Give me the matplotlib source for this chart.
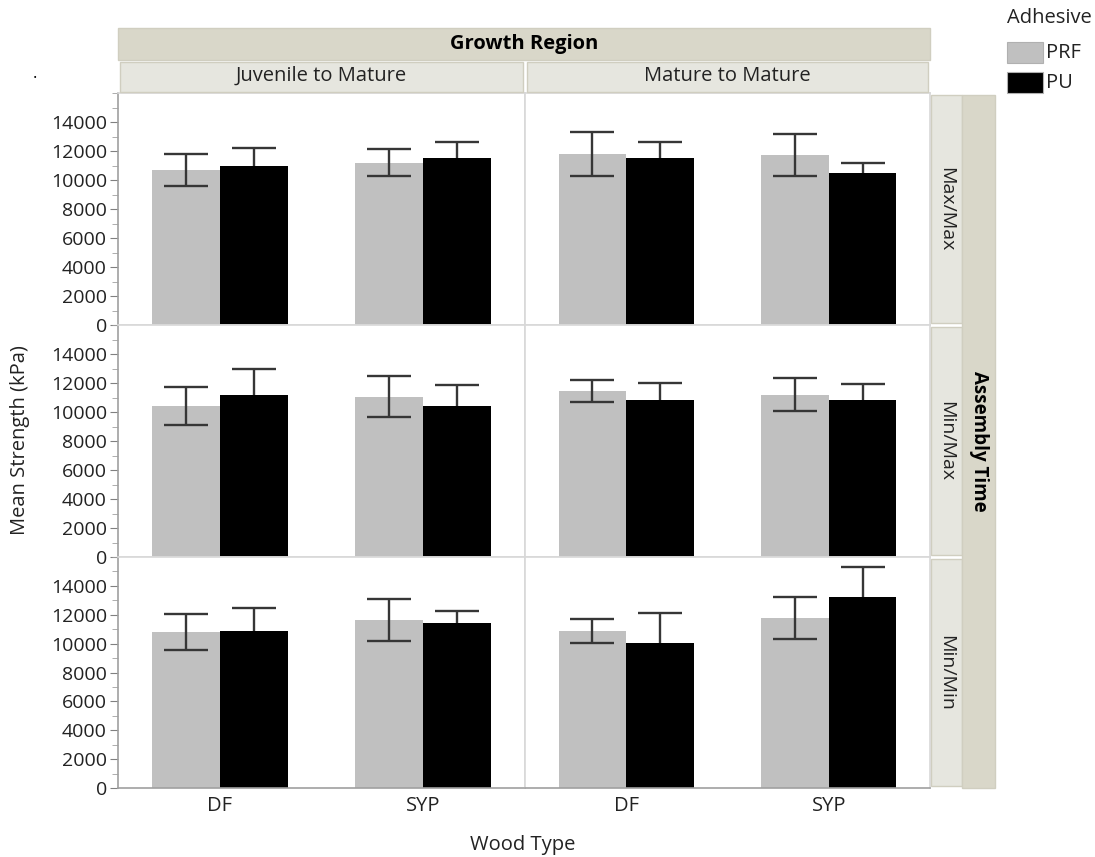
import matplotlib
matplotlib.use('Agg')
import matplotlib.pyplot as plt
import matplotlib.patches as mpatch
from matplotlib.ticker import MultipleLocator

plt.rcParams['font.family'] = ['Open Sans', 'DejaVu Sans']

growth = ['Juvenile to Mature', 'Mature to Mature']
assembly = ['Max/Max', 'Min/Max', 'Min/Min']
wood = ['DF', 'SYP']
adhesive = ['PRF', 'PU']

# per assembly row: Juv DF, Juv SYP, Mat DF, Mat SYP
prf_mean = [[10700, 11200, 11800, 11700],
            [10400, 11050, 11450, 11200],
            [10780, 11620, 10880, 11760]]
prf_err = [[1100, 950, 1530, 1440],
           [1300, 1400, 750, 1150],
           [1250, 1470, 820, 1440]]
pu_mean = [[10950, 11550, 11550, 10480],
           [11200, 10380, 10850, 10850],
           [10900, 11400, 10050, 13200]]
pu_err = [[1250, 1050, 1060, 670],
          [1770, 1500, 1150, 1060],
          [1580, 860, 2070, 2120]]

W, H = 1095, 857
fig = plt.figure(figsize=(W / 100, H / 100), dpi=100)

def fx(px):
    return px / W

def fy(py):
    return 1 - py / H

left, mid, right = 118, 525, 930
rows = [(93, 325), (325, 557), (557, 788)]
cols = [(left, mid), (mid, right)]
bar_w = 0.334
err_col = '#363636'
txt_col = '#222222'
fs = 14.5

for r, (top, bot) in enumerate(rows):
    for c, (x0, x1) in enumerate(cols):
        ax = fig.add_axes([fx(x0), fy(bot), fx(x1 - x0), (bot - top) / H])
        xs = [0.5, 1.5]
        pm = prf_mean[r][2 * c:2 * c + 2]
        pe = prf_err[r][2 * c:2 * c + 2]
        um = pu_mean[r][2 * c:2 * c + 2]
        ue = pu_err[r][2 * c:2 * c + 2]
        xp = [x - bar_w / 2 for x in xs]
        xu = [x + bar_w / 2 for x in xs]
        ax.bar(xp, pm, width=bar_w, color='#c0c0c0', zorder=2)
        ax.bar(xu, um, width=bar_w, color='black', zorder=2)
        ax.errorbar(xp, pm, yerr=pe, fmt='none', ecolor=err_col, elinewidth=1.7,
                    capsize=16, capthick=1.7, zorder=3)
        ax.errorbar(xu, um, yerr=ue, fmt='none', ecolor=err_col, elinewidth=1.7,
                    capsize=16, capthick=1.7, zorder=1)
        ax.set_xlim(0, 2)
        ax.set_ylim(0, 16000)
        for s in ax.spines.values():
            s.set_color('#d8d8d8')
            s.set_linewidth(1.2)
        ax.yaxis.set_major_locator(MultipleLocator(2000))
        ax.yaxis.set_minor_locator(MultipleLocator(1000))
        if c == 0:
            ax.spines['left'].set_color('#a0a0a0')
            ax.tick_params(axis='y', which='major', length=6, color='#808080',
                           labelsize=14, labelcolor=txt_col, pad=2)
            ax.tick_params(axis='y', which='minor', length=4, color='#a0a0a0')
            labels = [str(int(v)) for v in range(0, 16000, 2000)]
            ax.set_yticks(range(0, 16000, 2000))
            ax.set_yticklabels(labels)
        else:
            ax.tick_params(axis='y', which='both', left=False, labelleft=False)
        if r == 2:
            ax.spines['bottom'].set_color('#a0a0a0')
            ax.set_xticks(xs)
            ax.set_xticklabels(wood)
            ax.tick_params(axis='x', length=0, labelsize=14.5, labelcolor=txt_col, pad=6)
        else:
            ax.set_xticks([])

# strips
beige = '#d9d7c9'
light = '#e6e6df'
edge = '#d0cec0'
fig.patches.append(mpatch.Rectangle((fx(left), fy(60)), fx(right - left), 32 / H,
                                    transform=fig.transFigure, facecolor=beige, edgecolor=edge, lw=1))
fig.text(fx((left + right) / 2), fy(44), 'Growth Region', ha='center', va='center',
         fontsize=fs, fontweight='bold', color='black')
for c, (x0, x1) in enumerate(cols):
    fig.patches.append(mpatch.Rectangle((fx(x0 + 2), fy(92)), fx(x1 - x0 - 4), 30 / H,
                                        transform=fig.transFigure, facecolor=light,
                                        edgecolor=edge, lw=1))
    fig.text(fx((x0 + x1) / 2), fy(76), growth[c], ha='center', va='center',
             fontsize=fs, color=txt_col)

for r, (top, bot) in enumerate(rows):
    fig.patches.append(mpatch.Rectangle((fx(931), fy(bot - 2)), fx(31), (bot - top - 4) / H,
                                        transform=fig.transFigure, facecolor=light,
                                        edgecolor=edge, lw=1))
    fig.text(fx(946), fy((top + bot) / 2), assembly[r], ha='center', va='center',
             rotation=-90, fontsize=14, color=txt_col)
fig.patches.append(mpatch.Rectangle((fx(962), fy(788)), fx(33), (788 - 95) / H,
                                    transform=fig.transFigure, facecolor=beige,
                                    edgecolor=edge, lw=1))
fig.text(fx(979), fy(441), 'Assembly Time', ha='center', va='center', rotation=-90,
         fontsize=13.5, fontweight='bold', color='black')

# axis labels
fig.text(fx(20), fy(440), 'Mean Strength (kPa)', ha='center', va='center',
         rotation=90, fontsize=fs, color=txt_col)
fig.text(fx(523), fy(845), 'Wood Type', ha='center', va='center',
         fontsize=fs, color=txt_col)
fig.text(fx(35), fy(74), '.', ha='center', va='center', fontsize=12, color='black')

# legend
fig.text(fx(1007), fy(18), 'Adhesive', ha='left', va='center', fontsize=fs, color=txt_col)
for i, (name, col) in enumerate(zip(adhesive, ['#c0c0c0', 'black'])):
    y0 = 42 + 30 * i
    fig.patches.append(mpatch.Rectangle((fx(1007), fy(y0 + 21)), fx(36), 21 / H,
                                        transform=fig.transFigure, facecolor=col,
                                        edgecolor='#b0b0b0', lw=0.8))
    fig.text(fx(1046), fy(y0 + 11), name, ha='left', va='center', fontsize=fs, color=txt_col)

fig.savefig('out.png', dpi=100)
